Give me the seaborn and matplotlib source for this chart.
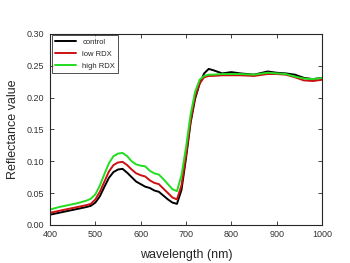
import matplotlib
matplotlib.use('Agg')
import matplotlib.pyplot as plt
import seaborn as sns
import pandas as pd

wavelength = [400, 420, 440, 460, 480, 490, 500, 510, 520, 530, 540, 550, 560, 570, 580,
              590, 600, 610, 620, 630, 640, 650, 660, 670, 680, 690, 700, 710, 720, 730,
              740, 750, 760, 780, 800, 820, 850, 880, 900, 920, 940, 960, 980, 1000]

control = [0.016, 0.019, 0.022, 0.025, 0.028, 0.030, 0.035, 0.045, 0.060, 0.074, 0.083,
           0.087, 0.088, 0.082, 0.075, 0.068, 0.064, 0.060, 0.058, 0.054, 0.052, 0.046,
           0.040, 0.035, 0.033, 0.055, 0.105, 0.160, 0.198, 0.222, 0.238, 0.245, 0.243,
           0.238, 0.240, 0.238, 0.236, 0.241, 0.239, 0.238, 0.236, 0.231, 0.229, 0.231]

low_rdx = [0.019, 0.022, 0.025, 0.028, 0.031, 0.033, 0.040, 0.052, 0.068, 0.084, 0.094,
           0.098, 0.099, 0.094, 0.087, 0.081, 0.078, 0.076, 0.070, 0.066, 0.064, 0.057,
           0.050, 0.043, 0.040, 0.062, 0.110, 0.163, 0.202, 0.222, 0.232, 0.234, 0.234,
           0.235, 0.235, 0.235, 0.234, 0.237, 0.237, 0.236, 0.232, 0.227, 0.226, 0.228]

high_rdx = [0.024, 0.028, 0.031, 0.034, 0.038, 0.041, 0.048, 0.062, 0.080, 0.097, 0.108,
            0.112, 0.113, 0.108, 0.100, 0.095, 0.093, 0.092, 0.085, 0.081, 0.079, 0.072,
            0.064, 0.056, 0.053, 0.078, 0.122, 0.173, 0.209, 0.228, 0.234, 0.236, 0.236,
            0.237, 0.237, 0.237, 0.236, 0.239, 0.238, 0.237, 0.233, 0.230, 0.229, 0.231]

labels = ['control', 'low RDX', 'high RDX']
colors = ['#000000', '#cc1111', '#22dd22']

df = pd.concat([
    pd.DataFrame({'wavelength': wavelength, 'value': vals, 'group': lab})
    for lab, vals in zip(labels, [control, low_rdx, high_rdx])
])

sns.set_style('ticks')
plt.rcParams['font.family'] = ['Liberation Sans', 'DejaVu Sans']

fig = plt.figure(figsize=(3.5, 2.63), dpi=100)
ax = fig.add_axes([0.143, 0.145, 0.777, 0.726])
sns.lineplot(data=df, x='wavelength', y='value', hue='group', hue_order=labels,
             palette=colors, lw=1.4, ax=ax)

ax.set_xlim(400, 1000)
ax.set_ylim(0, 0.30)
ax.set_xticks(range(400, 1001, 100))
ax.set_yticks([0, 0.05, 0.10, 0.15, 0.20, 0.25, 0.30])
ax.set_yticklabels(['0.00', '0.05', '0.10', '0.15', '0.20', '0.25', '0.30'])
ax.tick_params(direction='in', top=True, right=True, labelsize=6.5, length=3,
               width=0.6, pad=4, labelcolor='#333333')
for s in ax.spines.values():
    s.set_linewidth(0.8)
ax.set_xlabel('wavelength (nm)', fontsize=9, labelpad=7)
ax.set_ylabel('Reflectance value', fontsize=9, labelpad=6)

leg = ax.legend(loc='upper left', fontsize=5.5, frameon=True, fancybox=False,
                edgecolor='black', handlelength=2.8, borderaxespad=0.2,
                labelspacing=0.6)
leg.get_frame().set_linewidth(0.6)

fig.savefig('out.png', dpi=100)
